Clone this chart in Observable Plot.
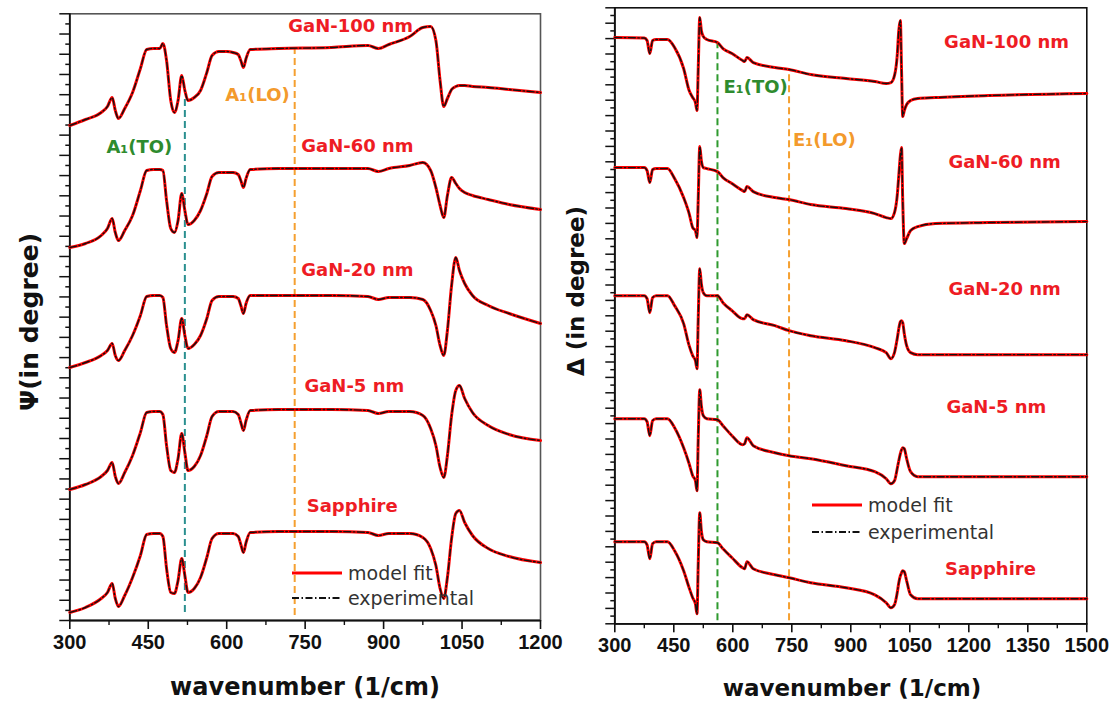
<!DOCTYPE html>
<html><head><meta charset="utf-8">
<script src="https://cdn.jsdelivr.net/npm/d3@7"></script>
<script src="https://cdn.jsdelivr.net/npm/@observablehq/plot@0.6"></script>
<style>
body{margin:0;background:#fff;}
#wrap{position:relative;width:1117px;height:704px;overflow:hidden;font-family:"DejaVu Sans",sans-serif;background:#fff;}
.panel{position:absolute;top:0;}
.xt{position:absolute;font-weight:bold;font-size:23px;color:#111;white-space:nowrap;transform:translate(-50%,-50%);}
.yt{position:absolute;font-weight:bold;font-size:24px;color:#111;white-space:nowrap;transform:translate(-50%,-50%) rotate(-90deg);}
.leg{position:absolute;font-size:19px;color:#333;}
.leg div{display:flex;align-items:center;height:25px;}
.leg svg{margin-right:6px;}
svg text.ticklab{font-size:20px !important;font-weight:bold !important;font-family:'Liberation Sans',Arial,sans-serif !important;}
</style></head>
<body><div id="wrap"></div>
<script>
// ---------- Left panel: Psi spectra ----------
const psiWavenumber = [300,330,360,372,381,387,393,405,420,435,447,460,472,478,485,493,500,507,514,520,526,538,550,562,572,585,600,612,622,627,632,637,645,700,800,870,890,910,950,975,990,1000,1008,1015,1022,1030,1038,1045,1055,1070,1100,1140,1200];
const psiGaN100 = [49.5,50.1,50.8,51.4,52.3,51.0,50.2,51.2,52.8,55.2,57.1,57.2,57.2,57.7,56.0,52.0,50.8,52.0,54.5,53.0,52.0,52.3,53.0,54.8,56.5,56.9,56.9,56.8,56.6,56.0,55.3,56.2,57.1,57.2,57.3,57.5,57.2,57.6,58.4,59.3,59.4,58.0,54.0,51.4,52.2,53.1,53.4,53.5,53.5,53.4,53.3,53.1,52.8];
const psiGaN60 = [37.3,37.7,38.5,39.2,40.2,38.8,38.0,39.0,40.5,43.0,45.0,45.1,45.1,45.0,42.0,39.2,38.8,40.0,42.7,41.0,39.6,40.0,41.0,42.7,44.4,44.8,44.8,44.8,44.6,44.0,43.3,44.2,45.1,45.2,45.2,45.2,44.9,45.2,45.5,45.8,45.0,43.3,41.5,40.3,42.5,44.3,43.7,43.2,42.8,42.5,42.1,41.6,41.1];
const psiGaN20 = [25.3,25.8,26.5,27.0,27.7,26.5,26.0,27.0,28.5,30.5,32.4,32.5,32.5,32.3,29.5,27.2,26.8,28.0,30.2,28.5,27.2,27.6,28.5,30.2,32.0,32.4,32.4,32.4,32.2,31.5,30.7,31.7,32.5,32.5,32.5,32.4,32.1,32.3,32.3,32.1,31.0,29.5,27.5,26.5,29.0,33.5,36.3,35.0,33.7,32.5,31.5,30.7,29.7];
const psiGaN5 = [13.1,13.6,14.4,15.0,15.8,14.4,13.7,14.8,16.5,18.8,20.8,20.9,20.9,20.6,17.5,15.0,14.8,16.2,18.7,16.8,15.0,15.4,16.5,18.5,20.4,20.9,20.9,20.9,20.6,19.8,19.0,20.0,21.0,21.1,21.1,21.0,20.7,20.9,20.9,20.5,19.2,17.5,15.3,14.3,16.5,20.5,23.0,23.5,22.2,20.8,19.5,18.6,18.0];
const psiSapphire = [0.8,1.3,2.2,2.8,3.7,2.2,1.4,2.5,4.3,6.5,8.6,8.7,8.7,8.4,5.2,2.8,2.7,4.0,6.2,4.5,2.8,3.2,4.3,6.3,8.2,8.7,8.7,8.7,8.4,7.6,6.8,7.8,8.8,8.9,8.9,8.8,8.5,8.7,8.7,8.3,7.2,5.5,3.2,2.2,4.3,8.2,10.7,11.0,9.8,8.5,7.2,6.4,5.8];

// ---------- Right panel: Delta spectra ----------
const deltaWavenumber = [300,375,382,389,396,405,434,452,475,489,498,505,509,512,516,520,525,534,561,575,598,625,630,636,652,707,743,798,888,961,990,1002,1011,1018,1022,1026,1029,1032,1036,1042,1052,1070,1115,1250,1500];
const deltaGaN100 = [58.6,58.55,58.3,57.0,58.3,58.4,58.4,57.6,55.5,53.3,52.6,52.1,51.3,55.3,60.6,59.3,58.7,58.4,58.1,57.5,57.0,56.3,56.2,56.6,56.1,55.6,55.4,54.9,54.5,54.2,54.0,54.1,54.8,56.8,59.3,60.3,55.3,50.7,51.3,51.9,52.3,52.5,52.6,52.8,53.0];
const deltaGaN60 = [45.6,45.6,45.3,44.1,45.4,45.5,45.5,44.5,42.6,41.0,39.6,39.3,38.6,42.3,47.7,46.3,45.6,45.5,45.2,44.6,44.0,43.3,43.2,43.7,43.2,42.6,42.4,41.9,41.5,41.0,40.6,40.5,41.1,42.8,44.8,46.8,47.6,42.3,38.0,38.5,39.3,39.7,40.0,40.1,40.2];
const deltaGaN20 = [32.8,32.8,32.5,31.1,32.6,32.8,32.8,31.8,30.0,27.8,26.8,26.3,25.5,30.3,35.5,34.0,33.1,32.8,32.8,32.1,31.3,30.5,30.5,30.9,30.4,29.8,29.3,28.8,28.3,27.6,27.1,26.5,27.1,28.5,29.5,30.2,30.3,30.1,29.0,27.8,27.1,26.9,26.9,26.9,26.9];
const deltaGaN5 = [20.5,20.5,20.2,18.8,20.3,20.5,20.5,19.6,17.6,16.0,14.8,14.3,13.3,18.3,23.4,21.8,20.8,20.5,20.4,19.8,18.8,17.9,18.0,18.6,17.8,17.1,16.8,16.5,15.8,15.2,14.5,14.0,14.3,15.5,16.3,17.0,17.4,17.6,17.5,16.5,15.2,14.7,14.7,14.7,14.7];
const deltaSapphire = [8.2,8.2,7.9,6.5,8.0,8.2,8.2,7.3,5.3,3.6,2.6,2.0,1.0,5.8,11.1,9.3,8.4,8.2,8.1,7.5,6.6,5.6,5.5,6.2,5.5,4.9,4.6,4.1,3.6,2.9,2.1,1.6,1.9,3.1,4.1,4.8,5.1,5.3,5.2,4.3,2.9,2.5,2.5,2.5,2.5];

const sampleNames = ["GaN-100 nm","GaN-60 nm","GaN-20 nm","GaN-5 nm","Sapphire"];
const psiTicksMajor = [300,450,600,750,900,1050,1200];
const psiTicksMinor = [375,525,675,825,975,1125];
const deltaTicksMajor = [300,450,600,750,900,1050,1200,1350,1500];
const deltaTicksMinor = [375,525,675,825,975,1125,1275,1425];

// phonon mode markers (wavenumber) and annotations
const psiModes = [{x:520, y1:0.8, y2:52.2, c:"#2a8f8f"}, {x:730, y1:0.5, y2:57.5, c:"#f5a030"}];
const deltaModes = [{x:561, y1:0.3, y2:58.1, c:"#2e9a2e"}, {x:743, y1:0.3, y2:55.4, c:"#f5a030"}];
const RED = "#ee1c24", GREEN = "#2e8b2e", ORANGE = "#f39a2c";
const psiLabels = [
  {x:837, y:59.4, t:"GaN-100 nm", c:RED},{x:850, y:47.4, t:"GaN-60 nm", c:RED},{x:850, y:35.0, t:"GaN-20 nm", c:RED},
  {x:844, y:23.4, t:"GaN-5 nm", c:RED},{x:840, y:11.4, t:"Sapphire", c:RED},
  {x:433, y:47.3, t:"A\u2081(TO)", c:GREEN},{x:659, y:52.5, t:"A\u2081(LO)", c:ORANGE}];
const deltaLabels = [
  {x:1296, y:58.1, t:"GaN-100 nm", c:RED},{x:1291, y:46.1, t:"GaN-60 nm", c:RED},{x:1291, y:33.4, t:"GaN-20 nm", c:RED},
  {x:1270, y:21.6, t:"GaN-5 nm", c:RED},{x:1255, y:5.5, t:"Sapphire", c:RED},
  {x:658, y:53.6, t:"E\u2081(TO)", c:GREEN},{x:833, y:48.3, t:"E\u2081(LO)", c:ORANGE}];

function rows(xs, list) {
  const out = [];
  list.forEach((ys, k) => xs.forEach((x, i) => out.push({x, y: ys[i], s: sampleNames[k]})));
  return out;
}
const psiRows = rows(psiWavenumber, [psiGaN100, psiGaN60, psiGaN20, psiGaN5, psiSapphire]);
const deltaRows = rows(deltaWavenumber, [deltaGaN100, deltaGaN60, deltaGaN20, deltaGaN5, deltaSapphire]);

function panel(opt) {
  const yTicks = d3.range(opt.nY + 1).map(i => i * opt.yMax / opt.nY);
  const svg = Plot.plot({
    width: opt.width, height: 704,
    marginLeft: opt.ml, marginRight: opt.mr, marginTop: opt.mt, marginBottom: opt.mb,
    x: {domain: opt.xDomain},
    y: {domain: [0, opt.yMax]},
    style: {background: "transparent", fontFamily: "'Liberation Sans', Arial, sans-serif", fontWeight: "bold", color: "#111", overflow: "visible"},
    marks: [
      Plot.frame({stroke: opt.frame, strokeWidth: 1.6}),
      Plot.axisX({ticks: opt.xMajor, tickSize: 9, tickPadding: 5, tickFormat: d => String(d), label: null, strokeWidth: 1.6, fontSize: 20, fontWeight: "bold"}),
      Plot.axisX({ticks: opt.xMinor, tickSize: 5, tickFormat: () => "", label: null, strokeWidth: 1.4}),
      Plot.axisY({ticks: yTicks.filter((d, i) => i % 2 === 0), tickSize: opt.tMaj, tickFormat: () => "", label: null, strokeWidth: 1.5}),
      Plot.axisY({ticks: yTicks.filter((d, i) => i % 2 === 1), tickSize: opt.tMin, tickFormat: () => "", label: null, strokeWidth: 1.5}),
      Plot.ruleX([opt.xDomain[0]], {stroke: "#111", strokeWidth: 1.8}),
      Plot.ruleY([0], {stroke: "#111", strokeWidth: 1.8}),
      Plot.ruleX(opt.modes, {x: "x", y1: "y1", y2: "y2", stroke: "c", strokeWidth: 2, strokeDasharray: "7,4"}),
      Plot.line(opt.rows, {x: "x", y: "y", z: "s", stroke: "#ff0000", strokeWidth: 3, curve: "monotone-x"}),
      Plot.line(opt.rows, {x: "x", y: "y", z: "s", stroke: "#111", strokeWidth: 1.4, strokeDasharray: "7,2.5,1.5,2.5", curve: "monotone-x"}),
      Plot.text(opt.labels, {x: "x", y: "y", text: "t", fill: "c", fontSize: 18, fontWeight: "bold", fontFamily: "'DejaVu Sans', sans-serif"})
    ]
  });
  svg.querySelectorAll("text").forEach(t => {
    if (/^\d+$/.test(t.textContent.trim())) {
      t.classList.add("ticklab");
      t.setAttribute("font-size", "20");
      t.setAttribute("font-weight", "bold");
    }
  });
  return svg;
}

const wrap = document.getElementById("wrap");
function place(el, left, width) {
  const d = document.createElement("div");
  d.className = "panel"; d.style.left = left + "px"; d.style.width = width + "px"; d.style.height = "704px";
  d.appendChild(el); wrap.appendChild(d);
}
place(panel({width: 560, ml: 69.3, mr: 20, mt: 13.3, mb: 84, xDomain: [300, 1200], yMax: 60.67, nY: 60, tMaj: 10, tMin: 4,
  xMajor: psiTicksMajor, xMinor: psiTicksMinor, rows: psiRows, modes: psiModes, labels: psiLabels, frame: "#555"}), 0, 560);
place(panel({width: 557, ml: 54.3, mr: 30.7, mt: 7.3, mb: 80.7, xDomain: [300, 1500], yMax: 61.57, nY: 80, tMaj: 9, tMin: 4,
  xMajor: deltaTicksMajor, xMinor: deltaTicksMinor, rows: deltaRows, modes: deltaModes, labels: deltaLabels, frame: "#111"}), 560, 557);

function addText(cls, txt, x, y, size) {
  const d = document.createElement("div");
  d.className = cls; d.textContent = txt; d.style.left = x + "px"; d.style.top = y + "px";
  if (size) d.style.fontSize = size + "px";
  wrap.appendChild(d);
}
addText("xt", "wavenumber (1/cm)", 305, 687, 24);
addText("xt", "wavenumber (1/cm)", 852, 688, 23);
addText("yt", "\u03A8(in degree)", 29, 322, 25);
addText("yt", "\u0394 (in degree)", 576, 291, 23);

function legend(x, y, gap) {
  const d = document.createElement("div");
  d.className = "leg"; d.style.left = x + "px"; d.style.top = y + "px";
  d.innerHTML =
    `<div style="height:${gap}px"><svg width="50" height="10"><line x1="0" x2="50" y1="5" y2="5" stroke="#ff0000" stroke-width="3"/></svg>model fit</div>` +
    `<div style="height:${gap}px"><svg width="50" height="10"><line x1="0" x2="50" y1="5" y2="5" stroke="#111" stroke-width="2" stroke-dasharray="7,2.5,1.5,2.5"/></svg>experimental</div>`;
  wrap.appendChild(d);
}
legend(292, 560.5, 25);
legend(812, 491.5, 27);
</script>
</body></html>
